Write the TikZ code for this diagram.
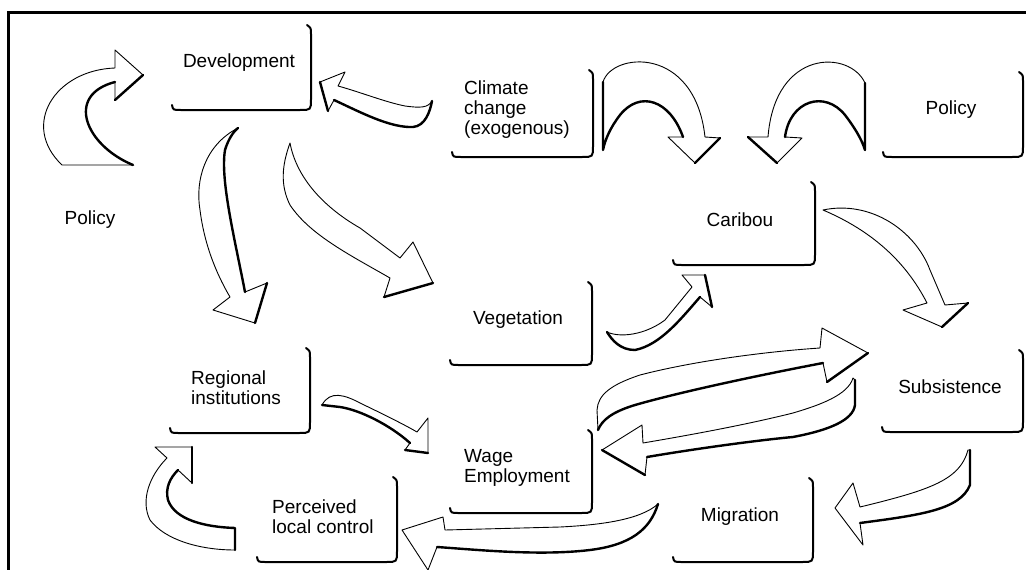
\documentclass[tikz,border=0pt]{standalone}
\usepackage{fontspec}
\setmainfont{Liberation Sans}
\newcommand\lbox[4]{\draw[boxline] (#4,#3-5) .. controls (#4+1,#3) .. (#4+9,#3) -- (#1-11,#3) .. controls (#1,#3) .. (#1,#3-11) -- (#1,#2+9) .. controls (#1,#2+3) .. (#1-4,#2);}
\begin{document}
\begin{tikzpicture}[x=1pt,y=-1pt,
  lbl/.style={font=\fontsize{19}{20}\selectfont, inner sep=0pt},
  mlbl/.style={lbl, align=left, anchor=west},
  arr/.style={draw=black, line width=0.9pt, line join=round, fill=white},
  shade/.style={draw=black, line width=2.4pt, line cap=round, line join=round},
  boxline/.style={draw=black, line width=2pt, line cap=round}]
\useasboundingbox (0,0) rectangle (1026,570);
\fill[white] (0,0) rectangle (1026,570);
% frame
\draw[line width=3pt] (8,570) -- (8,12) -- (1026,12);

% boxes
\lbox{311}{25}{110}{172}
\lbox{593}{70}{157}{452}
\lbox{1023}{72}{157}{883}
\lbox{815}{182}{265}{673}
\lbox{592}{282}{365}{450}
\lbox{1023}{350}{432}{882}
\lbox{813}{478}{562}{673}
\lbox{310}{348}{433}{170}
\lbox{397}{477}{562}{257}
\lbox{592}{430}{513}{450}

% labels
\node[lbl] (dev) at (239,63) {Development};
\node[mlbl] (clim) at (464,110) {Climate\\change\\(exogenous)};
\node[lbl] (polr) at (951,110) {Policy};
\node[lbl] (car) at (740,220) {Caribou};
\node[lbl] (veg) at (518,320) {Vegetation};
\node[lbl] (sub) at (950,387) {Subsistence};
\node[lbl] (mig) at (740,517) {Migration};
\node[mlbl] (reg) at (191,388) {Regional\\institutions};
\node[mlbl] (per) at (272,517) {Perceived\\local control};
\node[mlbl] (wage) at (464,468) {Wage\\Employment};
\node[lbl] (poll) at (90,220) {Policy};

% A1 policy -> development
\draw[arr] (62,165) -- (133,165) .. controls (85,145) and (65,95) .. (115,82) -- (115,100) -- (143,75) -- (115,50) -- (115,68) .. controls (55,70) and (20,125) .. (62,165) -- cycle;
\draw[shade] (133,165) .. controls (85,145) and (65,95) .. (115,82);
\draw[shade] (115,100) -- (143,75);

% A2 climate -> development
\draw[arr] (338,86) -- (345,72) -- (320,82) -- (328,111) -- (334,100) .. controls (360,112) and (390,128) .. (413,127) .. controls (425,126) and (430,112) .. (432,101) .. controls (428,108) and (420,108) .. (405,106) .. controls (385,102) and (360,92) .. (338,86) -- cycle;
\draw[shade] (320,82) -- (328,111);
\draw[shade] (334,100) .. controls (360,112) and (390,128) .. (413,127) .. controls (425,126) and (430,112) .. (432,101);

% A3 development -> regional
\draw[arr] (238,128) .. controls (205,145) and (195,180) .. (200,210) .. controls (205,250) and (220,280) .. (230,297) -- (213,310) -- (255,323) -- (267,283) -- (245,292) .. controls (235,240) and (220,180) .. (225,150) .. controls (228,140) and (233,132) .. (238,128) -- cycle;
\draw[shade] (255,323) -- (267,283);
\draw[shade] (245,292) .. controls (235,240) and (220,180) .. (225,150) .. controls (228,140) and (233,132) .. (238,128);

% A4 development -> vegetation
\draw[arr] (290,143) .. controls (296,175) and (320,205) .. (360,228) -- (400,258) -- (413,242) -- (433,283) -- (384,297) -- (390,278) .. controls (350,255) and (310,235) .. (290,205) .. controls (280,185) and (282,165) .. (290,143) -- cycle;
\draw[shade] (433,283) -- (384,297);

% A5 climate -> caribou
\draw[arr] (603,150) -- (603,82) .. controls (612,52) and (695,45) .. (705,137) -- (720,138) -- (695,163) -- (668,137) -- (683,137) .. controls (670,100) and (640,90) .. (620,115) .. controls (610,128) and (605,140) .. (603,150) -- cycle;
\draw[shade] (683,137) .. controls (670,100) and (640,90) .. (620,115) .. controls (610,128) and (605,140) .. (603,150) -- (603,82);
\draw[shade] (720,138) -- (695,163);

% A6 policy -> caribou
\draw[arr] (865,150) -- (865,83) .. controls (850,50) and (775,48) .. (768,137) -- (748,137) -- (777,163) -- (802,138) -- (785,137) .. controls (790,100) and (825,90) .. (845,115) .. controls (855,128) and (862,140) .. (865,150) -- cycle;
\draw[shade] (785,137) .. controls (790,100) and (825,90) .. (845,115) .. controls (855,128) and (862,140) .. (865,150) -- (865,83);
\draw[shade] (748,137) -- (777,163);

% A7 caribou -> subsistence
\draw[arr] (823,210) .. controls (870,200) and (915,230) .. (930,270) -- (945,305) -- (968,303) -- (942,327) -- (903,310) -- (927,303) .. controls (905,260) and (870,230) .. (823,210) -- cycle;
\draw[shade] (968,303) -- (942,327);

% A8 vegetation -> caribou
\draw[arr] (607,332) .. controls (620,338) and (645,335) .. (665,320) -- (692,287) -- (682,275) -- (705,275) -- (712,307) -- (700,297) .. controls (680,320) and (660,345) .. (635,350) .. controls (620,350) and (612,340) .. (607,332) -- cycle;
\draw[shade] (705,275) -- (712,307);
\draw[shade] (700,297) .. controls (680,320) and (660,345) .. (635,350) .. controls (620,350) and (612,340) .. (607,332);

% A9 wage -> subsistence
\draw[arr] (598,430) -- (597,410) .. controls (598,395) and (610,385) .. (640,375) .. controls (690,362) and (760,352) .. (820,348) -- (822,328) -- (868,353) -- (827,382) -- (823,363) .. controls (760,375) and (680,392) .. (635,405) .. controls (612,412) and (602,420) .. (598,430) -- cycle;
\draw[shade] (868,353) -- (827,382);
\draw[shade] (823,363) .. controls (760,375) and (680,392) .. (635,405) .. controls (612,412) and (602,420) .. (598,430);

% A10 subsistence -> wage
\draw[arr] (853,378) .. controls (848,395) and (820,405) .. (793,413) .. controls (745,425) and (690,435) .. (643,443) -- (642,425) -- (602,450) -- (645,475) -- (647,457) .. controls (700,448) and (760,440) .. (793,437) .. controls (830,430) and (853,420) .. (855,405) -- (855,380) -- cycle;
\draw[shade] (602,450) -- (645,475);
\draw[shade] (647,457) .. controls (700,448) and (760,440) .. (793,437) .. controls (830,430) and (853,420) .. (855,405) -- (855,380);

% A11 regional -> wage
\draw[arr] (322,405) .. controls (330,390) and (345,395) .. (360,403) .. controls (385,415) and (405,425) .. (417,432) -- (428,418) -- (428,453) -- (405,450) -- (410,443) .. controls (390,425) and (360,410) .. (340,407) -- (322,405) -- cycle;
\draw[shade] (428,453) -- (405,450);
\draw[shade] (410,443) .. controls (390,425) and (360,410) .. (340,407) -- (322,405);

% A12 perceived -> regional
\draw[arr] (235,528) .. controls (205,527) and (175,520) .. (168,500) .. controls (165,488) and (170,478) .. (178,470) -- (192,483) -- (192,447) -- (155,447) -- (167,458) .. controls (150,475) and (140,500) .. (150,520) .. controls (165,540) and (200,550) .. (235,550) -- cycle;
\draw[shade] (235,550) -- (235,528) .. controls (205,527) and (175,520) .. (168,500) .. controls (165,488) and (170,478) .. (178,470);
\draw[shade] (192,483) -- (192,447);

% A13 wage -> perceived
\draw[arr] (658,504) .. controls (640,520) and (600,525) .. (560,527) -- (445,530) -- (443,517) -- (402,530) -- (428,570) -- (437,547) .. controls (480,550) and (540,556) .. (590,550) .. controls (630,545) and (650,530) .. (658,504) -- cycle;
\draw[shade] (437,547) .. controls (480,550) and (540,556) .. (590,550) .. controls (630,545) and (650,530) .. (658,504);

% A14 subsistence -> migration
\draw[arr] (968,450) .. controls (960,480) and (930,490) .. (860,507) -- (853,483) -- (835,508) -- (863,545) -- (860,523) .. controls (920,515) and (960,510) .. (970,485) -- (970,450) -- cycle;
\draw[shade] (860,523) .. controls (920,515) and (960,510) .. (970,485) -- (970,450);
\end{tikzpicture}
\end{document}
